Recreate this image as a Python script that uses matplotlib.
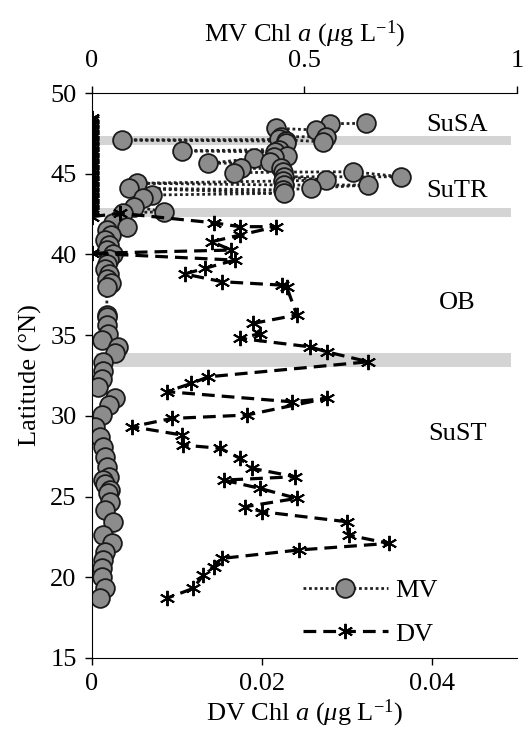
import matplotlib
matplotlib.use("Agg")
from matplotlib import pyplot as plt
from matplotlib.lines import Line2D

plt.rcParams["font.family"] = ["Liberation Serif", "DejaVu Serif"]
plt.rcParams["mathtext.fontset"] = "custom"
plt.rcParams["mathtext.rm"] = "Liberation Serif"
plt.rcParams["mathtext.it"] = "Liberation Serif:italic"

# MV chl a (top axis), in transect order
mv_lat = [48.12, 48.10, 47.71, 47.81, 47.29, 47.29, 46.98, 47.12, 47.09, 47.02,
          46.88, 46.50, 46.41, 46.35, 46.10, 46.06, 45.95, 45.64, 45.70, 45.33,
          45.33, 45.06, 45.10, 45.12, 44.81, 44.81, 44.61, 44.55, 44.41, 44.30,
          44.30, 44.10, 44.00, 44.10, 43.79, 43.68, 43.47, 42.96, 42.65, 42.57,
          41.95, 41.70, 41.50, 41.20, 40.90, 40.60, 40.30, 40.00, 39.70, 39.40,
          39.10, 38.80, 38.50, 38.20, 37.98, 36.25, 36.14, 35.63, 35.10, 34.70,
          34.28, 33.90, 33.35, 32.80, 32.30, 31.80, 31.08, 30.67, 30.05, 29.33,
          28.70, 28.10, 27.47, 26.85, 26.20, 26.00, 25.80, 25.40, 25.20, 24.68,
          24.16, 23.44, 22.60, 22.10, 21.58, 21.07, 20.55, 20.03, 19.31, 18.70]
mv_val = [0.645, 0.559, 0.527, 0.433, 0.444, 0.551, 0.543, 0.440, 0.070, 0.456,
          0.456, 0.440, 0.212, 0.430, 0.460, 0.429, 0.381, 0.273, 0.420, 0.444,
          0.350, 0.334, 0.450, 0.614, 0.728, 0.452, 0.551, 0.450, 0.106, 0.452,
          0.649, 0.515, 0.450, 0.086, 0.452, 0.141, 0.121, 0.098, 0.169, 0.073,
          0.050, 0.082, 0.035, 0.045, 0.030, 0.040, 0.035, 0.050, 0.040, 0.035,
          0.030, 0.040, 0.035, 0.045, 0.035, 0.035, 0.035, 0.035, 0.038, 0.023,
          0.062, 0.054, 0.026, 0.025, 0.023, 0.015, 0.054, 0.039, 0.023, 0.007,
          0.019, 0.027, 0.031, 0.035, 0.039, 0.027, 0.031, 0.043, 0.038, 0.042,
          0.031, 0.050, 0.027, 0.047, 0.031, 0.027, 0.023, 0.023, 0.031, 0.019]

# DV chl a (bottom axis), in transect order
dv_lat = [48.45, 48.30, 48.15, 48.00, 47.85, 47.70, 47.55, 47.40, 47.25, 47.10,
          46.95, 46.80, 46.65, 46.50, 46.35, 46.20, 46.05, 45.90, 45.75, 45.60,
          45.45, 45.30, 45.15, 45.00, 44.85, 44.70, 44.55, 44.40, 44.25, 44.10,
          43.95, 43.80, 43.65, 43.50, 43.35, 43.20, 43.05, 42.90, 42.75, 42.60,
          42.34, 42.55, 41.96, 41.72, 41.72, 41.20, 40.79, 40.27, 40.07, 39.65,
          39.14, 38.79, 38.31, 38.10, 38.00, 36.25, 35.73, 35.10, 34.80, 34.28,
          33.97, 33.35, 32.42, 32.01, 31.50, 30.87, 31.08, 30.05, 29.84, 29.33,
          28.81, 28.19, 27.99, 27.37, 26.75, 26.23, 26.02, 25.50, 24.89, 24.37,
          24.06, 23.44, 22.61, 22.10, 21.69, 21.17, 20.65, 20.14, 19.31, 18.70]
dv_val = [0, 0, 0, 0, 0, 0, 0, 0, 0, 0,
          0, 0, 0, 0, 0, 0, 0, 0, 0, 0,
          0, 0, 0, 0, 0, 0, 0, 0, 0, 0,
          0, 0, 0, 0, 0, 0, 0, 0, 0, 0,
          0, 0.0033, 0.0143, 0.0174, 0.0217, 0.0174, 0.0141, 0.0164, 0.0, 0.0168,
          0.0133, 0.0109, 0.0153, 0.0223, 0.0229, 0.0241, 0.0190, 0.0198, 0.0174, 0.0256,
          0.0276, 0.0325, 0.0137, 0.0117, 0.0088, 0.0235, 0.0276, 0.0182, 0.0094, 0.0047,
          0.0106, 0.0107, 0.0151, 0.0174, 0.0188, 0.0239, 0.0155, 0.0198, 0.0241, 0.0180,
          0.0200, 0.0300, 0.0302, 0.0349, 0.0243, 0.0153, 0.0143, 0.0131, 0.0119, 0.0088]

# front positions (grey bands) and region names
fronts = [(46.78, 47.32), (42.3, 42.85), (33.0, 33.9)]
regions = ["SuSA", "SuTR", "OB", "SuST"]
region_lat = [48.0, 43.9, 37.0, 28.9]

fs = 19
fig = plt.figure(figsize=(5.25, 7.37), dpi=100)
ax = fig.add_axes([0.1752, 0.1072, 0.8095, 0.7666])
ax2 = ax.twiny()
ax.set_zorder(2)
ax.patch.set_visible(False)
ax2.set_zorder(1)

for lo, hi in fronts:
    ax2.axhspan(lo, hi, xmin=0.01, xmax=0.985, color="#d4d4d4", lw=0, zorder=0)

ax2.plot(mv_val, mv_lat, linestyle=(0, (1, 1)), lw=2, color="#222222",
         marker="o", ms=13.5, mfc="#8c8c8c", mec="#1a1a1a", mew=1.3, zorder=2)
ax.plot(dv_val, dv_lat, linestyle=(0, (4, 2.2)), lw=2.3, color="black",
        marker=(6, 2, 0), ms=11, mec="black", mew=1.4, zorder=3)

for name, la in zip(regions, region_lat):
    ax.text(0.86, la, name, transform=ax.get_yaxis_transform(), ha="center",
            va="center", fontsize=fs)

ax.set_xlim(0, 0.05)
ax.set_ylim(15, 50)
ax2.set_xlim(0, 1)
ax.set_xticks([0, 0.02, 0.04])
ax.set_xticklabels(["0", "0.02", "0.04"])
ax.set_yticks([15, 20, 25, 30, 35, 40, 45, 50])
ax2.set_xticks([0, 0.5, 1])
ax2.set_xticklabels(["0", "0.5", "1"])

for a in (ax, ax2):
    a.spines["right"].set_visible(False)
    a.tick_params(labelsize=fs, direction="out", length=5, width=1, pad=6)
ax2.tick_params(pad=10)
ax.spines["top"].set_visible(False)
ax2.spines["bottom"].set_visible(False)
ax2.spines["left"].set_visible(False)

ax.set_xlabel(r"DV Chl $a$ ($\mu$g L$^{\mathrm{-1}}$)", fontsize=fs, labelpad=2)
ax2.set_xlabel(r"MV Chl $a$ ($\mu$g L$^{\mathrm{-1}}$)", fontsize=fs, labelpad=6)
ax.set_ylabel("Latitude (°N)", fontsize=fs, labelpad=6)

h1 = Line2D([], [], linestyle=(0, (1, 1)), lw=2, color="#222222", marker="o",
            ms=13.5, mfc="#8c8c8c", mec="#1a1a1a", mew=1.3)
h2 = Line2D([], [], linestyle=(0, (4, 2.2)), lw=2.3, color="black",
            marker=(6, 2, 0), ms=11, mec="black", mew=1.4)
ax.legend([h1, h2], ["MV", "DV"], loc="lower right", bbox_to_anchor=(0.87, -0.02),
          frameon=False, fontsize=fs, handlelength=3.2, labelspacing=0.75,
          handletextpad=0.3)

fig.savefig("out.png", dpi=100)
